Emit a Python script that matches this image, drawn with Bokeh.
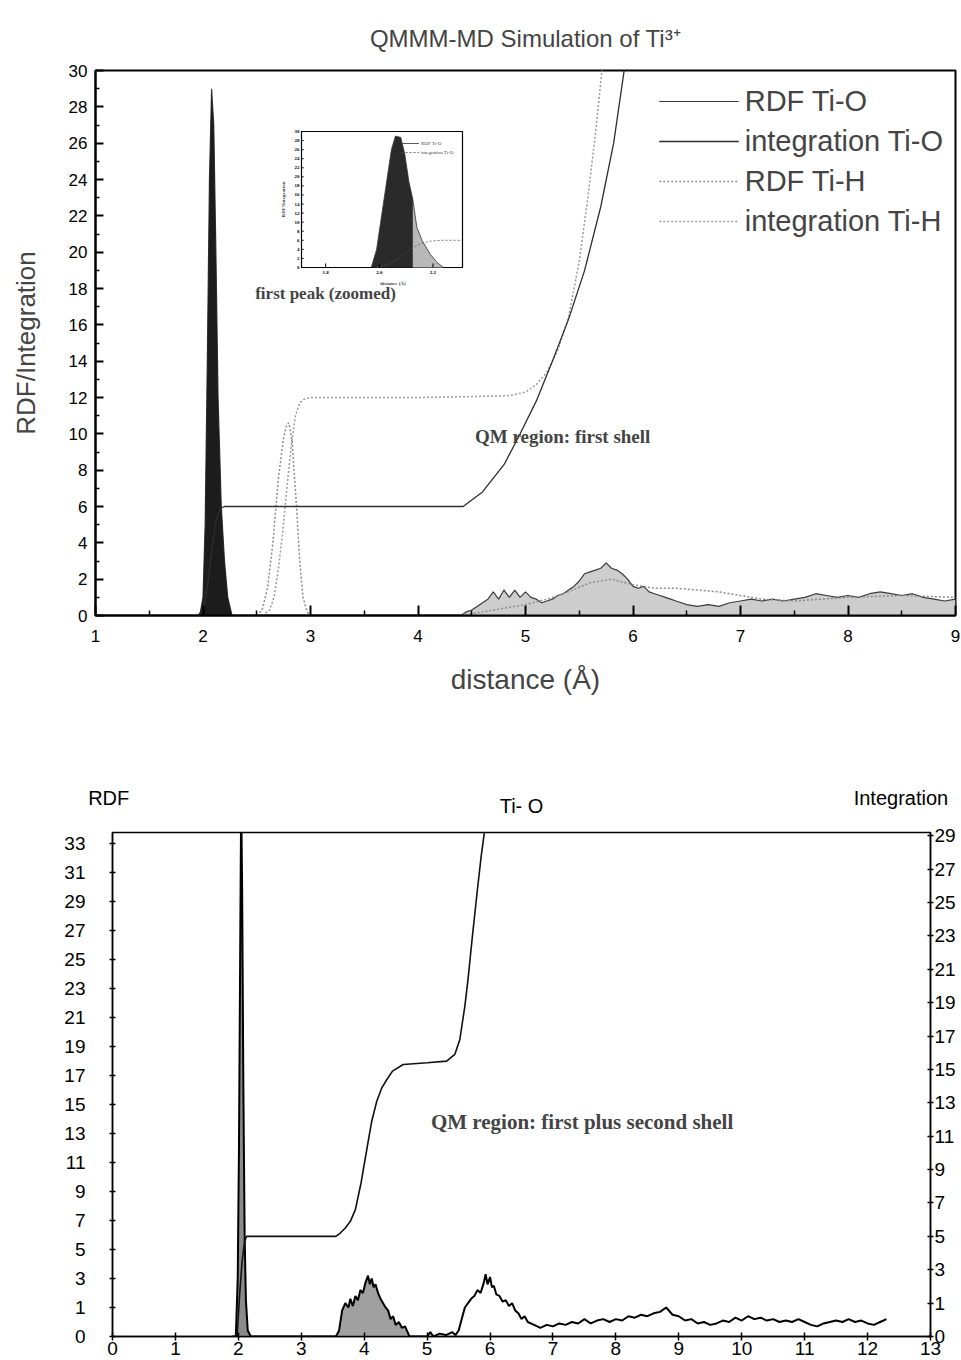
import numpy as np
from bokeh.plotting import figure
from bokeh.models import Range1d, LinearAxis, FixedTicker, Label, Legend, LegendItem
from bokeh.embed import file_html
from bokeh.resources import INLINE
from bokeh.core.properties import value

SANS = "Liberation Sans"
NARROW = "Liberation Sans Narrow, Liberation Sans"
SERIF = "Liberation Serif"

# ================= TOP PANEL DATA =================
top_title = "QMMM-MD Simulation of Ti³⁺"
top_xticks = [1, 2, 3, 4, 5, 6, 7, 8, 9]
top_yticks = list(range(0, 31, 2))

# RDF Ti-O (first peak + long-range part)
rdf_tio_x = [1.90, 1.97, 2.00, 2.02, 2.04, 2.06, 2.08, 2.10, 2.12, 2.14, 2.17, 2.20, 2.23, 2.27, 2.30,
             4.40, 4.45, 4.50, 4.55, 4.60, 4.65, 4.70, 4.75, 4.80, 4.85, 4.90, 4.95, 5.00, 5.05, 5.10,
             5.15, 5.20, 5.25, 5.30, 5.35, 5.40, 5.45, 5.50, 5.55, 5.60, 5.65, 5.70, 5.75, 5.80, 5.85,
             5.90, 5.95, 6.00, 6.05, 6.10, 6.15, 6.20, 6.25, 6.30, 6.35, 6.40, 6.45, 6.50, 6.60, 6.70,
             6.80, 6.90, 7.00, 7.10, 7.20, 7.30, 7.40, 7.50, 7.60, 7.70, 7.80, 7.90, 8.00, 8.10, 8.20,
             8.30, 8.40, 8.50, 8.60, 8.70, 8.80, 8.90, 9.00]
rdf_tio_g = [0, 0, 1, 5, 14, 24, 29, 27, 20, 12, 6, 3, 1, 0, 0,
             0.0, 0.2, 0.3, 0.5, 0.7, 0.9, 1.3, 0.9, 1.4, 1.0, 1.4, 1.0, 1.3, 1.0, 0.9,
             0.7, 0.8, 0.9, 1.1, 1.2, 1.4, 1.6, 1.9, 2.3, 2.4, 2.5, 2.6, 2.9, 2.6, 2.5,
             2.3, 2.0, 1.6, 1.5, 1.6, 1.3, 1.2, 1.1, 1.0, 0.9, 0.8, 0.7, 0.6, 0.5, 0.6,
             0.5, 0.7, 0.8, 0.9, 0.8, 0.9, 0.8, 0.9, 1.0, 1.2, 1.1, 1.0, 1.1, 1.0, 1.2,
             1.3, 1.2, 1.1, 1.2, 1.0, 0.9, 0.8, 0.9]

# integration Ti-O
int_tio_x = [1.95, 2.00, 2.04, 2.08, 2.12, 2.16, 2.20, 3.00, 4.00, 4.42, 4.60, 4.80, 4.95, 5.10,
             5.25, 5.40, 5.55, 5.70, 5.82, 5.93]
int_tio_n = [0, 0.3, 1.5, 3.5, 5.2, 5.9, 6.0, 6.0, 6.0, 6.0, 6.8, 8.3, 10.0, 11.8,
             14.0, 16.3, 19.0, 22.5, 26.0, 30.5]

# RDF Ti-H
rdf_tih_x = [2.50, 2.55, 2.60, 2.65, 2.70, 2.75, 2.78, 2.80, 2.83, 2.87, 2.90, 2.93, 2.97, 3.00,
             4.40, 4.60, 4.80, 5.00, 5.20, 5.40, 5.60, 5.80, 6.00, 6.20, 6.40, 6.60, 6.80, 7.00,
             7.20, 7.50, 8.00, 8.50, 9.00]
rdf_tih_g = [0, 0.3, 1.5, 4.0, 7.5, 9.8, 10.5, 10.6, 9.5, 6.0, 3.0, 1.0, 0.2, 0,
             0, 0.2, 0.4, 0.6, 0.9, 1.3, 1.8, 2.0, 1.7, 1.5, 1.5, 1.4, 1.3, 1.1,
             0.9, 0.8, 1.0, 1.1, 1.0]

# integration Ti-H
int_tih_x = [2.55, 2.62, 2.66, 2.70, 2.74, 2.78, 2.82, 2.86, 2.90, 2.94, 3.00, 3.50, 4.00, 4.50,
             4.85, 5.00, 5.10, 5.20, 5.30, 5.40, 5.50, 5.58, 5.65, 5.72]
int_tih_n = [0, 0.3, 1.0, 2.5, 4.5, 7.0, 9.3, 11.0, 11.7, 11.9, 12.0, 12.0, 12.0, 12.05,
             12.1, 12.3, 12.7, 13.4, 14.6, 16.4, 19.5, 23.0, 26.5, 30.5]

# inset (first peak zoomed)
inset_xlim = [1.71, 2.31]
inset_ylim = [0, 30]
inset_xticks = [1.8, 2.0, 2.2]
inset_yticks = list(range(0, 31, 2))
inset_rdf_x = [1.97, 1.99, 2.01, 2.03, 2.045, 2.06, 2.08, 2.095, 2.11, 2.125, 2.14, 2.16, 2.19, 2.215, 2.24]
inset_rdf_g = [0, 4, 12, 20, 26, 29, 28.7, 25, 19, 15, 8.8, 5.9, 2.9, 1.1, 0]
inset_int_x = [1.99, 2.03, 2.07, 2.11, 2.15, 2.19, 2.23, 2.31]
inset_int_n = [0, 0.5, 2.0, 3.8, 5.2, 5.8, 6.0, 6.0]

# ================= BOTTOM PANEL DATA =================
bot_headers = ["RDF", "Ti- O", "Integration"]
bot_xticks = list(range(0, 14))
rdf_tick_labels = [0, 1, 3, 5, 7, 9, 11, 13, 15, 17, 19, 21, 23, 25, 27, 29, 31, 33]
int_tick_labels = [0, 1, 3, 5, 7, 9, 11, 13, 15, 17, 19, 21, 23, 25, 27, 29]

bot_rdf_x = [1.90, 1.96, 1.99, 2.01, 2.03, 2.045, 2.06, 2.08, 2.10, 2.12, 2.15, 2.20,
             3.55, 3.60, 3.65, 3.70, 3.75, 3.78, 3.82, 3.86, 3.90, 3.94, 3.98, 4.02, 4.06, 4.09,
             4.12, 4.15, 4.18, 4.22, 4.26, 4.30, 4.34, 4.38, 4.42, 4.46, 4.50, 4.55, 4.60, 4.65,
             4.70, 4.72, 5.00, 5.05, 5.10, 5.20, 5.30, 5.40, 5.45, 5.50, 5.55, 5.60, 5.65, 5.70,
             5.75, 5.80, 5.85, 5.90, 5.93, 5.96, 6.00, 6.03, 6.06, 6.10, 6.15, 6.20, 6.25, 6.30,
             6.35, 6.40, 6.45, 6.50, 6.55, 6.60, 6.70, 6.80, 6.90, 7.00, 7.10, 7.20, 7.30, 7.40,
             7.50, 7.60, 7.70, 7.80, 7.90, 8.00, 8.10, 8.20, 8.30, 8.40, 8.50, 8.60, 8.70, 8.80,
             8.90, 9.00, 9.10, 9.20, 9.30, 9.40, 9.50, 9.60, 9.70, 9.80, 9.90, 10.00, 10.10, 10.20,
             10.30, 10.40, 10.50, 10.60, 10.70, 10.80, 10.90, 11.00, 11.10, 11.20, 11.30, 11.40,
             11.50, 11.60, 11.70, 11.80, 11.90, 12.00, 12.10, 12.20, 12.30]
bot_rdf_g = [0, 0, 3, 12, 26, 36, 30, 16, 6, 1.5, 0.2, 0,
             0, 0.2, 0.9, 1.3, 1.0, 1.6, 1.1, 1.8, 1.5, 2.2, 2.0, 2.7, 3.2, 2.6,
             3.0, 2.4, 2.6, 2.0, 1.6, 1.3, 1.0, 0.9, 0.6, 0.7, 0.4, 0.5, 0.3, 0.35,
             0.1, 0, 0, 0.15, 0, 0.1, 0.05, 0.15, 0.05, 0.2, 0.6, 1.0, 1.3, 1.6,
             1.8, 2.2, 2.0, 2.7, 3.3, 2.6, 3.1, 2.4, 2.5, 1.9, 1.8, 1.4, 1.5, 1.1,
             1.3, 0.9, 0.8, 0.6, 0.7, 0.5, 0.4, 0.3, 0.4, 0.35, 0.45, 0.4, 0.5, 0.45,
             0.6, 0.45, 0.55, 0.6, 0.5, 0.6, 0.55, 0.7, 0.65, 0.75, 0.7, 0.8, 0.85, 1.0,
             0.75, 0.7, 0.55, 0.6, 0.45, 0.5, 0.4, 0.45, 0.55, 0.5, 0.65, 0.55, 0.7, 0.6,
             0.65, 0.55, 0.6, 0.5, 0.55, 0.5, 0.6, 0.5, 0.4, 0.35, 0.45, 0.5,
             0.55, 0.5, 0.6, 0.5, 0.55, 0.45, 0.4, 0.5, 0.6]

bot_int_x = [1.98, 2.02, 2.06, 2.10, 2.13, 3.55, 3.62, 3.70, 3.78, 3.86, 3.95, 4.05, 4.12, 4.20,
             4.28, 4.36, 4.45, 4.62, 5.00, 5.31, 5.44, 5.52, 5.60, 5.65, 5.72, 5.80, 5.86, 5.92]
bot_int_n = [0, 1.5, 3.5, 4.7, 5.0, 5.0, 5.2, 5.5, 5.9, 6.6, 8.2, 10.4, 11.9, 13.1,
             13.9, 14.4, 14.9, 15.3, 15.4, 15.5, 15.9, 16.8, 18.8, 20.4, 23.0, 25.8, 27.8, 29.5]


def split_pos(v):
    """Axis position for the relabelled RDF / integration axes (0, 1, 3, 5, ...)."""
    v = np.asarray(v, dtype=float)
    return np.where(v < 1, v, (v + 1) / 2)


def style_axis(ax, font, size, tick_in, tick_out, minor_in=0, minor_out=0, lw=2):
    ax.major_label_text_font = font
    ax.major_label_text_font_size = size
    ax.major_label_text_color = "black"
    ax.axis_line_color = "black"
    ax.axis_line_width = lw
    ax.major_tick_line_color = "black"
    ax.major_tick_line_width = lw
    ax.major_tick_in = tick_in
    ax.major_tick_out = tick_out
    ax.minor_tick_line_color = "black"
    ax.minor_tick_line_width = 1.5
    ax.minor_tick_in = minor_in
    ax.minor_tick_out = minor_out


# ================= TOP FIGURE =================
FW, FH = 860, 545
top = figure(x_range=Range1d(1, 9), y_range=Range1d(0, 30), frame_width=FW, frame_height=FH,
             min_border_left=95, min_border_right=6, min_border_top=70, min_border_bottom=115,
             output_backend="svg", toolbar_location=None,
             background_fill_color="white", border_fill_color="white")
top.grid.visible = False
top.outline_line_color = "black"
top.outline_line_width = 2
top.title.text = top_title
top.title.align = "center"
top.title.text_font = SANS
top.title.text_font_size = "24px"
top.title.text_font_style = "normal"
top.title.standoff = 38

top.xaxis.ticker = FixedTicker(ticks=top_xticks, minor_ticks=[t + 0.5 for t in top_xticks[:-1]])
top.yaxis.ticker = FixedTicker(ticks=top_yticks, minor_ticks=[t + 1 for t in top_yticks[:-1]])
style_axis(top.xaxis[0], SANS, "17px", 10, 0, 5, 0)
style_axis(top.yaxis[0], SANS, "17px", 8, 0, 4, 0)
top.xaxis.major_label_standoff = 14
top.yaxis.major_label_standoff = 8
top.xaxis.axis_label = "distance (Å)"
top.xaxis.axis_label_text_font = SANS
top.xaxis.axis_label_text_font_size = "28px"
top.xaxis.axis_label_text_font_style = "normal"
top.xaxis.axis_label_standoff = 19
top.yaxis.axis_label = "RDF/Integration"
top.yaxis.axis_label_text_font = SANS
top.yaxis.axis_label_text_font_size = "26px"
top.yaxis.axis_label_text_font_style = "normal"
top.yaxis.axis_label_standoff = 25

tx = np.array(rdf_tio_x)
tg = np.array(rdf_tio_g)
tail = tx >= 4.35
peak = tx <= 2.31
top.varea(x=tx[tail], y1=0, y2=tg[tail], fill_color="#cdcdcd")
r_rdf_o = top.line(x=rdf_tio_x, y=rdf_tio_g, line_color="#3c3c3c", line_width=1.2)
top.varea(x=tx[peak], y1=0, y2=tg[peak], fill_color="#1c1c1c")
r_rdf_h = top.line(x=rdf_tih_x, y=rdf_tih_g, line_color="#8c8c8c", line_width=1.5, line_dash="2 2")
r_int_h = top.line(x=int_tih_x, y=int_tih_n, line_color="#9a9a9a", line_width=1.5, line_dash="2 2")
r_int_o = top.line(x=int_tio_x, y=int_tio_n, line_color="#2e2e2e", line_width=1.3)

legend = Legend(items=[LegendItem(label="RDF Ti-O", renderers=[r_rdf_o]),
                       LegendItem(label="integration Ti-O", renderers=[r_int_o]),
                       LegendItem(label="RDF Ti-H", renderers=[r_rdf_h]),
                       LegendItem(label="integration Ti-H", renderers=[r_int_h])],
                location="top_right", label_text_font=SANS, label_text_font_size="29px",
                glyph_width=80, glyph_height=38, label_height=38, spacing=2, padding=4,
                margin=8, label_standoff=6, border_line_alpha=0, background_fill_alpha=0)
top.add_layout(legend)

# ---- inset drawn with its own ranges inside the top frame ----
inset_px_x = (301 - 95, 462 - 95)      # frame-relative pixel box of the inset
inset_px_y = (615 - 267, 615 - 131)
kx = (inset_px_x[1] - inset_px_x[0]) / (inset_xlim[1] - inset_xlim[0])
ky = (inset_px_y[1] - inset_px_y[0]) / (inset_ylim[1] - inset_ylim[0])
ix0 = inset_xlim[0] - inset_px_x[0] / kx
iy0 = inset_ylim[0] - inset_px_y[0] / ky
top.extra_x_ranges = {"ix": Range1d(ix0, ix0 + FW / kx)}
top.extra_y_ranges = {"iy": Range1d(iy0, iy0 + FH / ky)}
IR = dict(x_range_name="ix", y_range_name="iy")

top.quad(left=[inset_xlim[0]], right=[inset_xlim[1]], bottom=[inset_ylim[0]], top=[inset_ylim[1]],
         fill_color="white", line_color="black", line_width=1.2, **IR)
ix = np.array(inset_rdf_x)
ig = np.array(inset_rdf_g)
dark = ix <= 2.125
light = ix >= 2.125
top.varea(x=ix[light], y1=0, y2=ig[light], fill_color="#b8b8b8", **IR)
top.varea(x=ix[dark], y1=0, y2=ig[dark], fill_color="#2a2a2a", **IR)
r_in_rdf = top.line(x=inset_rdf_x, y=inset_rdf_g, line_color="#333333", line_width=0.8, **IR)
r_in_int = top.line(x=inset_int_x, y=inset_int_n, line_color="#555555", line_width=0.8,
                    line_dash="2 2", **IR)
top.segment(x0=inset_xticks, y0=[0] * 3, x1=inset_xticks, y1=[0.9] * 3, line_color="black",
            line_width=1, **IR)
top.segment(x0=[inset_xlim[0]] * len(inset_yticks), y0=inset_yticks,
            x1=[inset_xlim[0] + 0.008] * len(inset_yticks), y1=inset_yticks,
            line_color="black", line_width=1, **IR)
top.text(x=inset_xticks, y=[0] * 3, text=[f"{t:.1f}" for t in inset_xticks], y_offset=3,
         text_align="center", text_baseline="top", text_font=value(SERIF),
         text_font_size="5px", text_font_style="bold", **IR)
top.text(x=[inset_xlim[0]] * len(inset_yticks), y=inset_yticks, text=[str(t) for t in inset_yticks],
         x_offset=-2, text_align="right", text_baseline="middle", text_font=value(SERIF),
         text_font_size="5px", text_font_style="bold", **IR)
top.add_layout(Label(x=1.643, y=15, text="RDF/Integration", angle=np.pi / 2, text_align="center",
                     text_baseline="middle", text_font=SERIF, text_font_size="5px",
                     text_font_style="bold", **IR))
top.add_layout(Label(x=2.05, y=-3.6, text="distance (Å)", text_align="center",
                     text_baseline="middle", text_font=SERIF, text_font_size="5px",
                     text_font_style="bold", **IR))
in_legend = Legend(items=[LegendItem(label="RDF Ti-O", renderers=[r_in_rdf]),
                          LegendItem(label="integration Ti-O", renderers=[r_in_int])],
                   location=(305, 458), label_text_font=SERIF, label_text_font_size="5px",
                   glyph_width=18, glyph_height=8, label_height=8, spacing=1, padding=1,
                   margin=0, label_standoff=2, border_line_alpha=0, background_fill_alpha=0)
top.add_layout(in_legend)

top.add_layout(Label(x=3.14, y=17.7, text="first peak (zoomed)", text_align="center",
                     text_baseline="middle", text_font=SERIF, text_font_size="17px",
                     text_font_style="bold"))
top.add_layout(Label(x=4.53, y=9.85, text="QM region: first shell", text_align="left",
                     text_baseline="middle", text_font=SERIF, text_font_size="19px",
                     text_font_style="bold"))

# ================= BOTTOM: header strip + panel =================
BL, BR, BW, BH, BT = 112, 31, 818, 504, 14
kb = BW / 13.0
HH = 102 - BT
head = figure(x_range=Range1d(0 - BL / kb, 13 + BR / kb), y_range=Range1d(0, HH),
              frame_width=BL + BW + BR, frame_height=HH, min_border=0,
              x_axis_type=None, y_axis_type=None, output_backend="svg", toolbar_location=None,
              background_fill_color="white", border_fill_color="white")
head.grid.visible = False
head.outline_line_color = None
head.text(x=[-0.06, 6.5, 12.53], y=[HH - 67, HH - 75, HH - 67], text=bot_headers,
          text_align="center", text_baseline="middle", text_font=value(NARROW),
          text_font_size="20px")

bot = figure(x_range=Range1d(0, 13), y_range=Range1d(0, 17.38), frame_width=BW, frame_height=BH,
             min_border_left=BL, min_border_right=BR, min_border_top=BT, min_border_bottom=24,
             output_backend="svg", toolbar_location=None,
             background_fill_color="white", border_fill_color="white")
bot.grid.visible = False
bot.outline_line_color = "black"
bot.outline_line_width = 1.5
bot.extra_y_ranges = {"int": Range1d(0, 15.1)}

rdf_ticks = split_pos(rdf_tick_labels).tolist()
int_ticks = split_pos(int_tick_labels).tolist()
bot.xaxis.ticker = FixedTicker(ticks=bot_xticks)
bot.yaxis.ticker = FixedTicker(ticks=rdf_ticks)
bot.yaxis.major_label_overrides = {p: str(l) for p, l in zip(rdf_ticks, rdf_tick_labels)}
style_axis(bot.xaxis[0], NARROW, "19px", 4, 4, lw=1.5)
style_axis(bot.yaxis[0], NARROW, "19px", 3, 3, lw=1.5)
bot.xaxis.major_label_standoff = 1
bot.yaxis.major_label_standoff = 24

right = LinearAxis(y_range_name="int", ticker=FixedTicker(ticks=int_ticks),
                   major_label_overrides={p: str(l) for p, l in zip(int_ticks, int_tick_labels)})
style_axis(right, NARROW, "19px", 3, 3, lw=1.5)
right.major_label_standoff = 1
bot.add_layout(right, "right")

bx = np.array(bot_rdf_x)
bp = split_pos(bot_rdf_g)
spike = bx <= 2.25
shell2 = (bx >= 3.5) & (bx <= 4.75)
bot.varea(x=bx[spike], y1=0, y2=bp[spike], fill_color="#8a8a8a")
bot.varea(x=bx[shell2], y1=0, y2=bp[shell2], fill_color="#a0a0a0")
bot.line(x=bot_rdf_x, y=bp, line_color="black", line_width=2)
bot.line(x=bot_int_x, y=split_pos(bot_int_n), y_range_name="int", line_color="#111111",
         line_width=1.6)

bot.add_layout(Label(x=5.06, y=7.4, text="QM region: first plus second shell", text_align="left",
                     text_baseline="middle", text_font=SERIF, text_font_size="21px",
                     text_font_style="bold"))

open("out.html", "w").write(file_html([top, head, bot], INLINE))
